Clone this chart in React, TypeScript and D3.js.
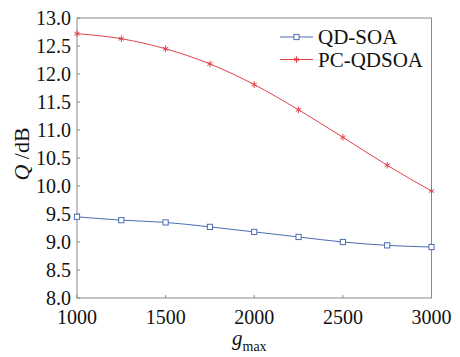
import React from 'react';
import * as d3 from 'd3';

// g_max values on the x axis
const gmax = [1000, 1250, 1500, 1750, 2000, 2250, 2500, 2750, 3000];
// Q factor (dB)
const qdSoa = [9.45, 9.39, 9.35, 9.27, 9.18, 9.09, 9.0, 8.94, 8.91];
const pcQdsoa = [12.72, 12.63, 12.45, 12.18, 11.81, 11.36, 10.87, 10.37, 9.91];

const xTicks = [1000, 1500, 2000, 2500, 3000];
const yTicks = [8.0, 8.5, 9.0, 9.5, 10.0, 10.5, 11.0, 11.5, 12.0, 12.5, 13.0];

const W = 460;
const H = 357;
const plot = { left: 77, right: 431.5, top: 18, bottom: 298 };
const axisColor = '#8a8a8a';
const blue = '#4a6db3';
const red = '#e0434b';
const ff = { fontFamily: "'Liberation Serif', 'DejaVu Serif', serif" };

const Square = ({ x, y, color }: { x: number; y: number; color: string }) => (
  <rect x={x - 2.6} y={y - 2.6} width={5.2} height={5.2} fill="white" stroke={color} strokeWidth={1} />
);

const Star = ({ x, y, color }: { x: number; y: number; color: string }) => {
  const r = 3.3;
  const d = r * 0.8;
  return (
    <g stroke={color} strokeWidth={1}>
      <line x1={x} y1={y - r} x2={x} y2={y + r} />
      <line x1={x - d} y1={y - d * 0.6} x2={x + d} y2={y + d * 0.6} />
      <line x1={x - d} y1={y + d * 0.6} x2={x + d} y2={y - d * 0.6} />
    </g>
  );
};

export default function App() {
  const x = d3.scaleLinear().domain([1000, 3000]).range([plot.left, plot.right]);
  const y = d3.scaleLinear().domain([8, 13]).range([plot.bottom, plot.top]);

  // smooth-ish line through the points
  const line = d3.line<number>()
    .x((_, i) => x(gmax[i]))
    .y(d => y(d))
    .curve(d3.curveMonotoneX);

  return (
    <svg width={W} height={H} style={{ position: 'absolute', left: 0, top: 0 }}>
      <rect width={W} height={H} fill="white" />

      {/* frame */}
      <rect
        x={plot.left}
        y={plot.top}
        width={plot.right - plot.left}
        height={plot.bottom - plot.top}
        fill="none"
        stroke={axisColor}
        strokeWidth={1}
      />

      {/* y ticks */}
      {yTicks.map(t => (
        <g key={t}>
          <line x1={plot.left} x2={plot.left + 3} y1={y(t)} y2={y(t)} stroke={axisColor} />
          <text style={ff} x={plot.left - 6} y={y(t) + 7} textAnchor="end" fontSize={20} fill="#111">
            {t.toFixed(1)}
          </text>
        </g>
      ))}

      {/* x ticks */}
      {xTicks.map(t => (
        <g key={t}>
          <line x1={x(t)} x2={x(t)} y1={plot.bottom} y2={plot.bottom - 3} stroke={axisColor} />
          <text style={ff} x={x(t)} y={324} textAnchor="middle" fontSize={20} fill="#111">
            {t}
          </text>
        </g>
      ))}

      {/* axis titles */}
      <text style={ff} x={232} y={345} fontSize={21} fill="#111">
        <tspan fontStyle="italic">g</tspan>
        <tspan fontSize={14} dy={6}>max</tspan>
      </text>
      <text style={ff} transform="translate(29,154) rotate(-90)" textAnchor="middle" fontSize={22} fill="#111">
        <tspan fontStyle="italic">Q</tspan> /dB
      </text>

      {/* series */}
      <path d={line(qdSoa) ?? ''} fill="none" stroke={blue} strokeWidth={1} />
      <path d={line(pcQdsoa) ?? ''} fill="none" stroke={red} strokeWidth={1} />
      {qdSoa.map((v, i) => (
        <Square key={'b' + i} x={x(gmax[i])} y={y(v)} color={blue} />
      ))}
      {pcQdsoa.map((v, i) => (
        <Star key={'r' + i} x={x(gmax[i])} y={y(v)} color={red} />
      ))}

      {/* legend */}
      <line x1={280} x2={313} y1={37} y2={37} stroke={blue} />
      <Square x={296.5} y={37} color={blue} />
      <text style={ff} x={318} y={44} fontSize={21} fill="#111">QD-SOA</text>
      <line x1={280} x2={313} y1={59.5} y2={59.5} stroke={red} />
      <Star x={296.5} y={59.5} color={red} />
      <text style={ff} x={318} y={66.5} fontSize={21} fill="#111">PC-QDSOA</text>
    </svg>
  );
}
